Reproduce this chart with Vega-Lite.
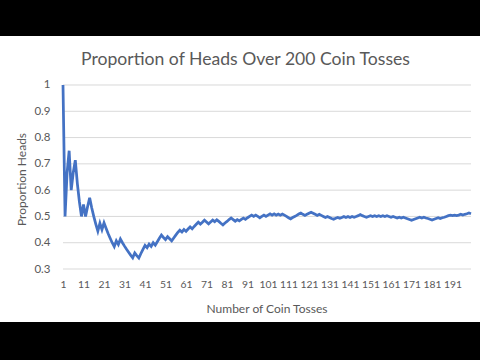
{
  "$schema": "https://vega.github.io/schema/vega-lite/v6.json",
  "width": 480,
  "height": 286,
  "autosize": {"type": "none"},
  "padding": {"top": 36, "bottom": 38, "left": 0, "right": 0},
  "background": "black",
  "config": {"view": {"fill": "white", "stroke": null}, "font": "Lato", "axis": {"labelOverlap": false, "labelFlush": false, "labelBound": false}},
  "title": {
    "text": "Proportion of Heads Over 200 Coin Tosses",
    "anchor": "middle",
    "frame": "group",
    "offset": -42,
    "baseline": "middle",
    "dx": 5.5,
    "fontSize": 17.6,
    "font": "Lato",
    "fontWeight": "normal",
    "color": "#595959"
  },
  "encoding": {
    "y": {
      "field": "p", "type": "quantitative",
      "scale": {"domain": [0.0984, 1.1864], "nice": false, "zero": false},
      "axis": {"title": "Proportion Heads", "orient": "left", "values": [0.3, 0.4, 0.5, 0.6, 0.7, 0.8, 0.9, 1], "format": "~g", "offset": -53, "grid": false, "domain": false, "ticks": false, "tickSize": 0, "labelPadding": 3, "labelFontSize": 11.5, "labelColor": "#595959", "labelFont": "Lato", "titleFont": "Lato", "titleFontSize": 12, "titleColor": "#595959", "titleFontWeight": "normal", "titleAngle": 270, "titleBaseline": "bottom", "titleX": -25, "titleY": 143, "titleAlign": "center"}
    },
    "x": {
      "field": "n", "type": "quantitative",
      "scale": {"domain": [-29.73, 204.39], "nice": false, "zero": false},
      "axis": {"title": "Number of Coin Tosses", "orient": "bottom", "values": [1, 11, 21, 31, 41, 51, 61, 71, 81, 91, 101, 111, 121, 131, 141, 151, 161, 171, 181, 191], "format": "d", "offset": -46, "grid": false, "domain": false, "ticks": false, "tickSize": 0, "labelPadding": 3, "labelFontSize": 10.3, "labelColor": "#595959", "labelFont": "Lato", "labelOverlap": false, "labelFlush": false, "labelBound": false, "titleFont": "Lato", "titleFontSize": 12, "titleColor": "#595959", "titleFontWeight": "normal", "titleX": 266.5, "titleY": 32, "titleBaseline": "middle", "titleAlign": "center"}
    }
  },
  "layer": [
    {
      "data": {"values": [{"p": 0.3, "n": 1, "n2": 200}, {"p": 0.4, "n": 1, "n2": 200}, {"p": 0.5, "n": 1, "n2": 200}, {"p": 0.6, "n": 1, "n2": 200}, {"p": 0.7, "n": 1, "n2": 200}, {"p": 0.8, "n": 1, "n2": 200}, {"p": 0.9, "n": 1, "n2": 200}, {"p": 1.0, "n": 1, "n2": 200}]},
      "mark": {"type": "rule", "color": "#D9D9D9", "strokeWidth": 1},
      "encoding": {
        "x2": {"field": "n2"}
      }
    },
    {
      "data": {"values": [
        {"n":1,"p":1},{"n":2,"p":0.5},{"n":3,"p":0.667},{"n":4,"p":0.75},{"n":5,"p":0.6},{"n":6,"p":0.667},{"n":7,"p":0.714},{"n":8,"p":0.625},{"n":9,"p":0.556},{"n":10,"p":0.5},
        {"n":11,"p":0.545},{"n":12,"p":0.5},{"n":13,"p":0.538},{"n":14,"p":0.571},{"n":15,"p":0.533},{"n":16,"p":0.5},{"n":17,"p":0.471},{"n":18,"p":0.444},{"n":19,"p":0.474},{"n":20,"p":0.45},
        {"n":21,"p":0.476},{"n":22,"p":0.455},{"n":23,"p":0.435},{"n":24,"p":0.417},{"n":25,"p":0.4},{"n":26,"p":0.385},{"n":27,"p":0.407},{"n":28,"p":0.393},{"n":29,"p":0.414},{"n":30,"p":0.4},
        {"n":31,"p":0.387},{"n":32,"p":0.375},{"n":33,"p":0.364},{"n":34,"p":0.353},{"n":35,"p":0.343},{"n":36,"p":0.361},{"n":37,"p":0.351},{"n":38,"p":0.342},{"n":39,"p":0.359},{"n":40,"p":0.375},
        {"n":41,"p":0.39},{"n":42,"p":0.381},{"n":43,"p":0.395},{"n":44,"p":0.386},{"n":45,"p":0.4},{"n":46,"p":0.391},{"n":47,"p":0.404},{"n":48,"p":0.417},{"n":49,"p":0.429},{"n":50,"p":0.42},
        {"n":51,"p":0.412},{"n":52,"p":0.423},{"n":53,"p":0.415},{"n":54,"p":0.407},{"n":55,"p":0.418},{"n":56,"p":0.429},{"n":57,"p":0.439},{"n":58,"p":0.448},{"n":59,"p":0.441},{"n":60,"p":0.45},
        {"n":61,"p":0.443},{"n":62,"p":0.452},{"n":63,"p":0.46},{"n":64,"p":0.453},{"n":65,"p":0.462},{"n":66,"p":0.47},{"n":67,"p":0.478},{"n":68,"p":0.471},{"n":69,"p":0.478},{"n":70,"p":0.486},
        {"n":71,"p":0.479},{"n":72,"p":0.472},{"n":73,"p":0.479},{"n":74,"p":0.486},{"n":75,"p":0.48},{"n":76,"p":0.487},{"n":77,"p":0.481},{"n":78,"p":0.474},{"n":79,"p":0.468},{"n":80,"p":0.475},
        {"n":81,"p":0.481},{"n":82,"p":0.488},{"n":83,"p":0.494},{"n":84,"p":0.488},{"n":85,"p":0.482},{"n":86,"p":0.488},{"n":87,"p":0.483},{"n":88,"p":0.489},{"n":89,"p":0.494},{"n":90,"p":0.489},
        {"n":91,"p":0.495},{"n":92,"p":0.5},{"n":93,"p":0.505},{"n":94,"p":0.5},{"n":95,"p":0.505},{"n":96,"p":0.5},{"n":97,"p":0.495},{"n":98,"p":0.5},{"n":99,"p":0.505},{"n":100,"p":0.5},
        {"n":101,"p":0.505},{"n":102,"p":0.51},{"n":103,"p":0.505},{"n":104,"p":0.51},{"n":105,"p":0.505},{"n":106,"p":0.509},{"n":107,"p":0.505},{"n":108,"p":0.509},{"n":109,"p":0.505},{"n":110,"p":0.5},
        {"n":111,"p":0.495},{"n":112,"p":0.491},{"n":113,"p":0.496},{"n":114,"p":0.5},{"n":115,"p":0.504},{"n":116,"p":0.509},{"n":117,"p":0.513},{"n":118,"p":0.508},{"n":119,"p":0.504},{"n":120,"p":0.508},
        {"n":121,"p":0.512},{"n":122,"p":0.516},{"n":123,"p":0.512},{"n":124,"p":0.508},{"n":125,"p":0.504},{"n":126,"p":0.508},{"n":127,"p":0.504},{"n":128,"p":0.5},{"n":129,"p":0.496},{"n":130,"p":0.5},
        {"n":131,"p":0.496},{"n":132,"p":0.492},{"n":133,"p":0.489},{"n":134,"p":0.493},{"n":135,"p":0.496},{"n":136,"p":0.493},{"n":137,"p":0.496},{"n":138,"p":0.5},{"n":139,"p":0.496},{"n":140,"p":0.5},
        {"n":141,"p":0.496},{"n":142,"p":0.5},{"n":143,"p":0.497},{"n":144,"p":0.5},{"n":145,"p":0.503},{"n":146,"p":0.507},{"n":147,"p":0.503},{"n":148,"p":0.5},{"n":149,"p":0.497},{"n":150,"p":0.5},
        {"n":151,"p":0.503},{"n":152,"p":0.5},{"n":153,"p":0.503},{"n":154,"p":0.5},{"n":155,"p":0.503},{"n":156,"p":0.5},{"n":157,"p":0.503},{"n":158,"p":0.5},{"n":159,"p":0.503},{"n":160,"p":0.5},
        {"n":161,"p":0.497},{"n":162,"p":0.5},{"n":163,"p":0.497},{"n":164,"p":0.494},{"n":165,"p":0.497},{"n":166,"p":0.494},{"n":167,"p":0.497},{"n":168,"p":0.494},{"n":169,"p":0.491},{"n":170,"p":0.488},
        {"n":171,"p":0.485},{"n":172,"p":0.488},{"n":173,"p":0.491},{"n":174,"p":0.494},{"n":175,"p":0.497},{"n":176,"p":0.494},{"n":177,"p":0.497},{"n":178,"p":0.494},{"n":179,"p":0.492},{"n":180,"p":0.489},
        {"n":181,"p":0.486},{"n":182,"p":0.489},{"n":183,"p":0.492},{"n":184,"p":0.495},{"n":185,"p":0.492},{"n":186,"p":0.495},{"n":187,"p":0.497},{"n":188,"p":0.5},{"n":189,"p":0.503},{"n":190,"p":0.505},
        {"n":191,"p":0.503},{"n":192,"p":0.505},{"n":193,"p":0.503},{"n":194,"p":0.505},{"n":195,"p":0.508},{"n":196,"p":0.505},{"n":197,"p":0.508},{"n":198,"p":0.51},{"n":199,"p":0.513},{"n":200,"p":0.51}
      ]},
      "mark": {"type": "line", "color": "#4472C4", "strokeWidth": 2.75}
    }
  ]
}
